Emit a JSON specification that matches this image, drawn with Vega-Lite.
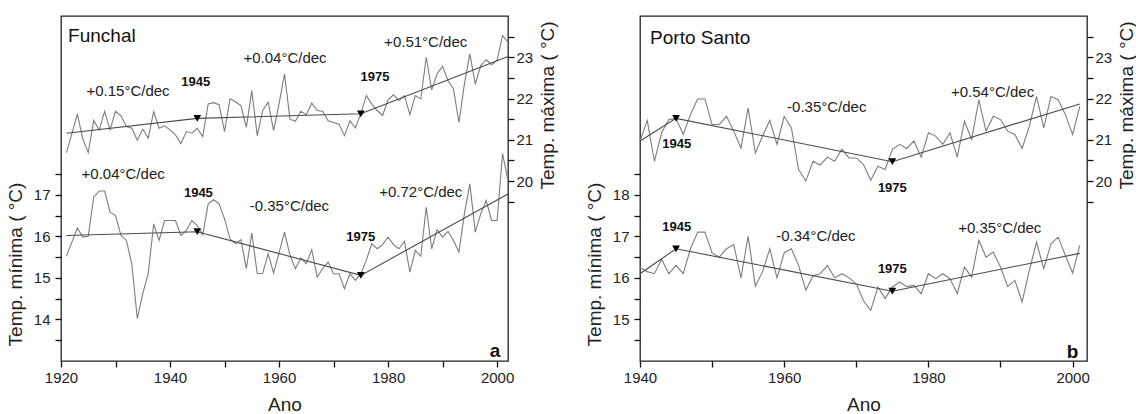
{
"$schema": "https://vega.github.io/schema/vega-lite/v6.json",
"padding": {"left": 5, "top": 15, "right": 2, "bottom": 0},
"background": "white",
"config": {
 "font": "Liberation Sans",
 "view": {"stroke": "#222", "strokeWidth": 1.3},
 "axis": {"labelFont": "Liberation Sans", "labelFontSize": 15, "titleFont": "Liberation Sans", "titleFontSize": 19, "titleFontWeight": "normal", "labelColor": "#222", "titleColor": "#222", "domain": false, "grid": false, "labelFlush": false, "labelOverlap": false, "zindex": 1}
},
"datasets": {
 "series": [
  {"st":"F","k":"max","year":1921,"t":20.69},{"st":"F","k":"max","year":1922,"t":21.15},{"st":"F","k":"max","year":1923,"t":21.63},{"st":"F","k":"max","year":1924,"t":21.02},{"st":"F","k":"max","year":1925,"t":20.69},{"st":"F","k":"max","year":1926,"t":21.47},{"st":"F","k":"max","year":1927,"t":21.24},{"st":"F","k":"max","year":1928,"t":21.69},{"st":"F","k":"max","year":1929,"t":21.24},{"st":"F","k":"max","year":1930,"t":21.69},
  {"st":"F","k":"max","year":1931,"t":21.58},{"st":"F","k":"max","year":1932,"t":21.32},{"st":"F","k":"max","year":1933,"t":21.28},{"st":"F","k":"max","year":1934,"t":20.99},{"st":"F","k":"max","year":1935,"t":21.26},{"st":"F","k":"max","year":1936,"t":21.04},{"st":"F","k":"max","year":1937,"t":21.68},{"st":"F","k":"max","year":1938,"t":21.28},{"st":"F","k":"max","year":1939,"t":21.34},{"st":"F","k":"max","year":1940,"t":21.24},
  {"st":"F","k":"max","year":1941,"t":21.12},{"st":"F","k":"max","year":1942,"t":20.91},{"st":"F","k":"max","year":1943,"t":21.2},{"st":"F","k":"max","year":1944,"t":21.16},{"st":"F","k":"max","year":1945,"t":21.28},{"st":"F","k":"max","year":1946,"t":21.08},{"st":"F","k":"max","year":1947,"t":21.87},{"st":"F","k":"max","year":1948,"t":21.9},{"st":"F","k":"max","year":1949,"t":21.85},{"st":"F","k":"max","year":1950,"t":21.2},
  {"st":"F","k":"max","year":1951,"t":22.0},{"st":"F","k":"max","year":1952,"t":21.92},{"st":"F","k":"max","year":1953,"t":21.83},{"st":"F","k":"max","year":1954,"t":21.3},{"st":"F","k":"max","year":1955,"t":22.19},{"st":"F","k":"max","year":1956,"t":21.1},{"st":"F","k":"max","year":1957,"t":21.71},{"st":"F","k":"max","year":1958,"t":21.91},{"st":"F","k":"max","year":1959,"t":21.22},{"st":"F","k":"max","year":1960,"t":21.87},
  {"st":"F","k":"max","year":1961,"t":22.6},{"st":"F","k":"max","year":1962,"t":21.5},{"st":"F","k":"max","year":1963,"t":21.45},{"st":"F","k":"max","year":1964,"t":21.69},{"st":"F","k":"max","year":1965,"t":21.61},{"st":"F","k":"max","year":1966,"t":21.89},{"st":"F","k":"max","year":1967,"t":21.71},{"st":"F","k":"max","year":1968,"t":21.69},{"st":"F","k":"max","year":1969,"t":21.46},{"st":"F","k":"max","year":1970,"t":21.42},
  {"st":"F","k":"max","year":1971,"t":21.38},{"st":"F","k":"max","year":1972,"t":21.1},{"st":"F","k":"max","year":1973,"t":21.46},{"st":"F","k":"max","year":1974,"t":21.29},{"st":"F","k":"max","year":1975,"t":21.63},{"st":"F","k":"max","year":1976,"t":22.07},{"st":"F","k":"max","year":1977,"t":21.87},{"st":"F","k":"max","year":1978,"t":21.71},{"st":"F","k":"max","year":1979,"t":21.59},{"st":"F","k":"max","year":1980,"t":21.97},
  {"st":"F","k":"max","year":1981,"t":22.09},{"st":"F","k":"max","year":1982,"t":21.95},{"st":"F","k":"max","year":1983,"t":22.07},{"st":"F","k":"max","year":1984,"t":21.61},{"st":"F","k":"max","year":1985,"t":22.07},{"st":"F","k":"max","year":1986,"t":21.99},{"st":"F","k":"max","year":1987,"t":23.0},{"st":"F","k":"max","year":1988,"t":22.21},{"st":"F","k":"max","year":1989,"t":22.6},{"st":"F","k":"max","year":1990,"t":22.78},
  {"st":"F","k":"max","year":1991,"t":22.43},{"st":"F","k":"max","year":1992,"t":22.23},{"st":"F","k":"max","year":1993,"t":21.42},{"st":"F","k":"max","year":1994,"t":22.35},{"st":"F","k":"max","year":1995,"t":23.08},{"st":"F","k":"max","year":1996,"t":22.35},{"st":"F","k":"max","year":1997,"t":22.8},{"st":"F","k":"max","year":1998,"t":22.94},{"st":"F","k":"max","year":1999,"t":22.82},{"st":"F","k":"max","year":2000,"t":22.93},
  {"st":"F","k":"max","year":2001,"t":23.53},{"st":"F","k":"max","year":2002,"t":23.36},
  {"st":"F","k":"min","year":1921,"t":15.52},{"st":"F","k":"min","year":1922,"t":15.86},{"st":"F","k":"min","year":1923,"t":16.2},{"st":"F","k":"min","year":1924,"t":15.98},{"st":"F","k":"min","year":1925,"t":16.0},{"st":"F","k":"min","year":1926,"t":16.94},{"st":"F","k":"min","year":1927,"t":17.09},{"st":"F","k":"min","year":1928,"t":17.09},{"st":"F","k":"min","year":1929,"t":16.58},{"st":"F","k":"min","year":1930,"t":16.5},
  {"st":"F","k":"min","year":1931,"t":16.02},{"st":"F","k":"min","year":1932,"t":15.9},{"st":"F","k":"min","year":1933,"t":15.32},{"st":"F","k":"min","year":1934,"t":14.02},{"st":"F","k":"min","year":1935,"t":14.62},{"st":"F","k":"min","year":1936,"t":15.1},{"st":"F","k":"min","year":1937,"t":16.3},{"st":"F","k":"min","year":1938,"t":15.9},{"st":"F","k":"min","year":1939,"t":16.38},{"st":"F","k":"min","year":1940,"t":16.38},
  {"st":"F","k":"min","year":1941,"t":16.38},{"st":"F","k":"min","year":1942,"t":16.02},{"st":"F","k":"min","year":1943,"t":16.14},{"st":"F","k":"min","year":1944,"t":16.38},{"st":"F","k":"min","year":1945,"t":16.26},{"st":"F","k":"min","year":1946,"t":16.04},{"st":"F","k":"min","year":1947,"t":16.78},{"st":"F","k":"min","year":1948,"t":16.88},{"st":"F","k":"min","year":1949,"t":16.78},{"st":"F","k":"min","year":1950,"t":16.42},
  {"st":"F","k":"min","year":1951,"t":15.94},{"st":"F","k":"min","year":1952,"t":15.82},{"st":"F","k":"min","year":1953,"t":15.92},{"st":"F","k":"min","year":1954,"t":15.22},{"st":"F","k":"min","year":1955,"t":16.08},{"st":"F","k":"min","year":1956,"t":15.1},{"st":"F","k":"min","year":1957,"t":15.11},{"st":"F","k":"min","year":1958,"t":15.58},{"st":"F","k":"min","year":1959,"t":15.12},{"st":"F","k":"min","year":1960,"t":15.6},
  {"st":"F","k":"min","year":1961,"t":16.1},{"st":"F","k":"min","year":1962,"t":15.55},{"st":"F","k":"min","year":1963,"t":15.22},{"st":"F","k":"min","year":1964,"t":15.48},{"st":"F","k":"min","year":1965,"t":15.34},{"st":"F","k":"min","year":1966,"t":15.68},{"st":"F","k":"min","year":1967,"t":15.02},{"st":"F","k":"min","year":1968,"t":15.22},{"st":"F","k":"min","year":1969,"t":15.38},{"st":"F","k":"min","year":1970,"t":15.1},
  {"st":"F","k":"min","year":1971,"t":15.1},{"st":"F","k":"min","year":1972,"t":14.74},{"st":"F","k":"min","year":1973,"t":15.1},{"st":"F","k":"min","year":1974,"t":14.94},{"st":"F","k":"min","year":1975,"t":15.1},{"st":"F","k":"min","year":1976,"t":15.42},{"st":"F","k":"min","year":1977,"t":15.82},{"st":"F","k":"min","year":1978,"t":15.7},{"st":"F","k":"min","year":1979,"t":15.8},{"st":"F","k":"min","year":1980,"t":15.98},
  {"st":"F","k":"min","year":1981,"t":15.8},{"st":"F","k":"min","year":1982,"t":15.7},{"st":"F","k":"min","year":1983,"t":15.88},{"st":"F","k":"min","year":1984,"t":15.14},{"st":"F","k":"min","year":1985,"t":15.66},{"st":"F","k":"min","year":1986,"t":15.52},{"st":"F","k":"min","year":1987,"t":16.7},{"st":"F","k":"min","year":1988,"t":15.7},{"st":"F","k":"min","year":1989,"t":16.16},{"st":"F","k":"min","year":1990,"t":15.98},
  {"st":"F","k":"min","year":1991,"t":16.12},{"st":"F","k":"min","year":1992,"t":15.9},{"st":"F","k":"min","year":1993,"t":15.62},{"st":"F","k":"min","year":1994,"t":16.54},{"st":"F","k":"min","year":1995,"t":17.26},{"st":"F","k":"min","year":1996,"t":16.1},{"st":"F","k":"min","year":1997,"t":16.54},{"st":"F","k":"min","year":1998,"t":16.86},{"st":"F","k":"min","year":1999,"t":16.38},{"st":"F","k":"min","year":2000,"t":16.38},
  {"st":"F","k":"min","year":2001,"t":17.99},{"st":"F","k":"min","year":2002,"t":17.34},
  {"st":"P","k":"max","year":1940,"t":20.97},{"st":"P","k":"max","year":1941,"t":21.47},{"st":"P","k":"max","year":1942,"t":20.48},{"st":"P","k":"max","year":1943,"t":21.17},{"st":"P","k":"max","year":1944,"t":21.49},{"st":"P","k":"max","year":1945,"t":21.52},{"st":"P","k":"max","year":1946,"t":21.13},{"st":"P","k":"max","year":1947,"t":21.61},{"st":"P","k":"max","year":1948,"t":21.99},{"st":"P","k":"max","year":1949,"t":21.99},
  {"st":"P","k":"max","year":1950,"t":21.37},{"st":"P","k":"max","year":1951,"t":21.37},{"st":"P","k":"max","year":1952,"t":21.57},{"st":"P","k":"max","year":1953,"t":21.21},{"st":"P","k":"max","year":1954,"t":20.8},{"st":"P","k":"max","year":1955,"t":21.77},{"st":"P","k":"max","year":1956,"t":20.68},{"st":"P","k":"max","year":1957,"t":21.09},{"st":"P","k":"max","year":1958,"t":21.47},{"st":"P","k":"max","year":1959,"t":20.89},
  {"st":"P","k":"max","year":1960,"t":21.57},{"st":"P","k":"max","year":1961,"t":21.29},{"st":"P","k":"max","year":1962,"t":20.28},{"st":"P","k":"max","year":1963,"t":20.0},{"st":"P","k":"max","year":1964,"t":20.48},{"st":"P","k":"max","year":1965,"t":20.39},{"st":"P","k":"max","year":1966,"t":20.58},{"st":"P","k":"max","year":1967,"t":20.48},{"st":"P","k":"max","year":1968,"t":20.77},{"st":"P","k":"max","year":1969,"t":20.56},
  {"st":"P","k":"max","year":1970,"t":20.56},{"st":"P","k":"max","year":1971,"t":20.4},{"st":"P","k":"max","year":1972,"t":20.02},{"st":"P","k":"max","year":1973,"t":20.36},{"st":"P","k":"max","year":1974,"t":20.28},{"st":"P","k":"max","year":1975,"t":20.77},{"st":"P","k":"max","year":1976,"t":20.89},{"st":"P","k":"max","year":1977,"t":20.79},{"st":"P","k":"max","year":1978,"t":20.97},{"st":"P","k":"max","year":1979,"t":20.58},
  {"st":"P","k":"max","year":1980,"t":21.17},{"st":"P","k":"max","year":1981,"t":21.09},{"st":"P","k":"max","year":1982,"t":20.89},{"st":"P","k":"max","year":1983,"t":21.17},{"st":"P","k":"max","year":1984,"t":20.58},{"st":"P","k":"max","year":1985,"t":21.45},{"st":"P","k":"max","year":1986,"t":21.01},{"st":"P","k":"max","year":1987,"t":21.97},{"st":"P","k":"max","year":1988,"t":21.21},{"st":"P","k":"max","year":1989,"t":21.57},
  {"st":"P","k":"max","year":1990,"t":21.49},{"st":"P","k":"max","year":1991,"t":21.21},{"st":"P","k":"max","year":1992,"t":21.13},{"st":"P","k":"max","year":1993,"t":20.79},{"st":"P","k":"max","year":1994,"t":21.33},{"st":"P","k":"max","year":1995,"t":22.05},{"st":"P","k":"max","year":1996,"t":21.29},{"st":"P","k":"max","year":1997,"t":22.05},{"st":"P","k":"max","year":1998,"t":21.97},{"st":"P","k":"max","year":1999,"t":21.61},
  {"st":"P","k":"max","year":2000,"t":21.13},{"st":"P","k":"max","year":2001,"t":21.81},
  {"st":"P","k":"min","year":1940,"t":16.25},{"st":"P","k":"min","year":1941,"t":16.15},{"st":"P","k":"min","year":1942,"t":16.1},{"st":"P","k":"min","year":1943,"t":16.45},{"st":"P","k":"min","year":1944,"t":16.1},{"st":"P","k":"min","year":1945,"t":16.3},{"st":"P","k":"min","year":1946,"t":16.1},{"st":"P","k":"min","year":1947,"t":16.7},{"st":"P","k":"min","year":1948,"t":17.1},{"st":"P","k":"min","year":1949,"t":17.1},
  {"st":"P","k":"min","year":1950,"t":16.6},{"st":"P","k":"min","year":1951,"t":16.5},{"st":"P","k":"min","year":1952,"t":16.7},{"st":"P","k":"min","year":1953,"t":16.8},{"st":"P","k":"min","year":1954,"t":16.0},{"st":"P","k":"min","year":1955,"t":17.0},{"st":"P","k":"min","year":1956,"t":15.8},{"st":"P","k":"min","year":1957,"t":16.15},{"st":"P","k":"min","year":1958,"t":16.7},{"st":"P","k":"min","year":1959,"t":16.0},
  {"st":"P","k":"min","year":1960,"t":16.6},{"st":"P","k":"min","year":1961,"t":16.7},{"st":"P","k":"min","year":1962,"t":16.3},{"st":"P","k":"min","year":1963,"t":15.7},{"st":"P","k":"min","year":1964,"t":16.05},{"st":"P","k":"min","year":1965,"t":16.1},{"st":"P","k":"min","year":1966,"t":16.3},{"st":"P","k":"min","year":1967,"t":16.0},{"st":"P","k":"min","year":1968,"t":16.1},{"st":"P","k":"min","year":1969,"t":16.0},
  {"st":"P","k":"min","year":1970,"t":15.85},{"st":"P","k":"min","year":1971,"t":15.45},{"st":"P","k":"min","year":1972,"t":15.22},{"st":"P","k":"min","year":1973,"t":15.78},{"st":"P","k":"min","year":1974,"t":15.5},{"st":"P","k":"min","year":1975,"t":15.78},{"st":"P","k":"min","year":1976,"t":15.9},{"st":"P","k":"min","year":1977,"t":15.79},{"st":"P","k":"min","year":1978,"t":15.82},{"st":"P","k":"min","year":1979,"t":15.62},
  {"st":"P","k":"min","year":1980,"t":16.1},{"st":"P","k":"min","year":1981,"t":15.98},{"st":"P","k":"min","year":1982,"t":16.1},{"st":"P","k":"min","year":1983,"t":15.98},{"st":"P","k":"min","year":1984,"t":15.62},{"st":"P","k":"min","year":1985,"t":16.26},{"st":"P","k":"min","year":1986,"t":16.02},{"st":"P","k":"min","year":1987,"t":16.9},{"st":"P","k":"min","year":1988,"t":16.5},{"st":"P","k":"min","year":1989,"t":16.62},
  {"st":"P","k":"min","year":1990,"t":16.26},{"st":"P","k":"min","year":1991,"t":15.79},{"st":"P","k":"min","year":1992,"t":15.94},{"st":"P","k":"min","year":1993,"t":15.42},{"st":"P","k":"min","year":1994,"t":16.18},{"st":"P","k":"min","year":1995,"t":16.86},{"st":"P","k":"min","year":1996,"t":16.22},{"st":"P","k":"min","year":1997,"t":16.82},{"st":"P","k":"min","year":1998,"t":16.98},{"st":"P","k":"min","year":1999,"t":16.54},
  {"st":"P","k":"min","year":2000,"t":16.11},{"st":"P","k":"min","year":2001,"t":16.78}
 ],
 "trend": [
  {"st":"F","k":"max","year":1921,"t":21.16},{"st":"F","k":"max","year":1945,"t":21.52},{"st":"F","k":"max","year":1975,"t":21.63},{"st":"F","k":"max","year":2002,"t":23.02},
  {"st":"F","k":"min","year":1921,"t":16.02},{"st":"F","k":"min","year":1945,"t":16.11},{"st":"F","k":"min","year":1975,"t":15.06},{"st":"F","k":"min","year":2002,"t":17.02},
  {"st":"P","k":"max","year":1940,"t":20.97},{"st":"P","k":"max","year":1945,"t":21.52},{"st":"P","k":"max","year":1975,"t":20.47},{"st":"P","k":"max","year":2001,"t":21.87},
  {"st":"P","k":"min","year":1940,"t":16.1},{"st":"P","k":"min","year":1945,"t":16.7},{"st":"P","k":"min","year":1975,"t":15.68},{"st":"P","k":"min","year":2001,"t":16.59}
 ],
 "breaks": [
  {"st":"F","k":"max","year":1945,"t":21.52},{"st":"F","k":"max","year":1975,"t":21.63},
  {"st":"F","k":"min","year":1945,"t":16.11},{"st":"F","k":"min","year":1975,"t":15.06},
  {"st":"P","k":"max","year":1945,"t":21.52},{"st":"P","k":"max","year":1975,"t":20.47},
  {"st":"P","k":"min","year":1945,"t":16.7},{"st":"P","k":"min","year":1975,"t":15.68}
 ],
 "rates": [
  {"st":"F","k":"max","year":1932.3,"t":22.19,"label":"+0.15°C/dec"},
  {"st":"F","k":"max","year":1961.1,"t":22.99,"label":"+0.04°C/dec"},
  {"st":"F","k":"max","year":1986.9,"t":23.36,"label":"+0.51°C/dec"},
  {"st":"F","k":"min","year":1931.4,"t":17.49,"label":"+0.04°C/dec"},
  {"st":"F","k":"min","year":1961.9,"t":16.73,"label":"-0.35°C/dec"},
  {"st":"F","k":"min","year":1986.0,"t":17.06,"label":"+0.72°C/dec"},
  {"st":"P","k":"max","year":1965.9,"t":21.79,"label":"-0.35°C/dec"},
  {"st":"P","k":"max","year":1988.9,"t":22.15,"label":"+0.54°C/dec"},
  {"st":"P","k":"min","year":1964.4,"t":17.0,"label":"-0.34°C/dec"},
  {"st":"P","k":"min","year":1989.9,"t":17.2,"label":"+0.35°C/dec"}
 ],
 "yearlabels": [
  {"st":"F","k":"max","year":1944.7,"t":22.41,"label":"1945"},
  {"st":"F","k":"max","year":1977.6,"t":22.53,"label":"1975"},
  {"st":"F","k":"min","year":1945.2,"t":17.03,"label":"1945"},
  {"st":"F","k":"min","year":1975.0,"t":15.98,"label":"1975"},
  {"st":"P","k":"max","year":1945.1,"t":20.89,"label":"1945"},
  {"st":"P","k":"max","year":1975.0,"t":19.84,"label":"1975"},
  {"st":"P","k":"min","year":1945.1,"t":17.22,"label":"1945"},
  {"st":"P","k":"min","year":1975.0,"t":16.22,"label":"1975"}
 ],
 "names": [
  {"st":"F","year":1921.3,"t":20.83,"label":"Funchal"},
  {"st":"P","year":1941.4,"t":21.78,"label":"Porto Santo"}
 ],
 "letters": [
  {"st":"F","year":1999.6,"t":13.23,"label":"a"},
  {"st":"P","year":2000.0,"t":14.21,"label":"b"}
 ]
},
"spacing": 132,
"bounds": "flush",
"hconcat": [
 {
  "width": 447, "height": 345,
  "resolve": {"scale": {"y": "independent"}, "axis": {"y": "independent"}},
  "layer": [
   {"layer": [
    {"data": {"name": "series"}, "transform": [{"filter": "datum.st === 'F' && datum.k === 'min'"}],
     "mark": {"type": "line", "color": "#7d7d7d", "strokeWidth": 1.1},
     "encoding": {
      "x": {"field": "year", "type": "quantitative", "scale": {"domain": [1920, 2002], "nice": false, "zero": false},
            "axis": {"title": "Ano", "values": [1920,1930,1940,1950,1960,1970,1980,1990,2000], "format": "d", "labelExpr": "datum.value % 20 === 0 ? datum.label : ''", "ticks": true, "tickSize": 6, "tickColor": "#111", "tickWidth": 1.3, "tickOpacity": 1, "labelFlush": false, "labelPadding": 3, "titlePadding": 10}},
      "y": {"field": "t", "type": "quantitative", "scale": {"domain": [13.0, 21.3], "nice": false, "zero": false},
            "axis": {"orient": "left", "title": "Temp. mínima ( °C)", "values": [13.5,14,14.5,15,15.5,16,16.5,17,17.5], "format": "d", "labelExpr": "datum.value % 1 === 0 ? datum.label : ''", "ticks": true, "tickSize": 6, "tickColor": "#111", "tickWidth": 1.3, "tickOpacity": 1, "labelFlush": false, "labelPadding": 5, "titlePadding": 8, "titleY": 248}}
     }},
    {"data": {"name": "trend"}, "transform": [{"filter": "datum.st === 'F' && datum.k === 'min'"}],
     "mark": {"type": "line", "color": "#4a4a4a", "strokeWidth": 1.1},
     "encoding": {
      "x": {"field": "year", "type": "quantitative", "scale": {"domain": [1920, 2002], "nice": false, "zero": false}},
      "y": {"field": "t", "type": "quantitative", "scale": {"domain": [13.0, 21.3], "nice": false, "zero": false}}
     }},
    {"data": {"name": "breaks"}, "transform": [{"filter": "datum.st === 'F' && datum.k === 'min'"}],
     "mark": {"type": "point", "shape": "triangle-down", "filled": true, "color": "#000", "opacity": 1, "size": 60},
     "encoding": {
      "x": {"field": "year", "type": "quantitative", "scale": {"domain": [1920, 2002], "nice": false, "zero": false}},
      "y": {"field": "t", "type": "quantitative", "scale": {"domain": [13.0, 21.3], "nice": false, "zero": false}}
     }},
    {"data": {"name": "rates"}, "transform": [{"filter": "datum.st === 'F' && datum.k === 'min'"}],
     "mark": {"type": "text", "fontSize": 15, "color": "#222", "align": "center", "baseline": "middle"},
     "encoding": {
      "x": {"field": "year", "type": "quantitative", "scale": {"domain": [1920, 2002], "nice": false, "zero": false}},
      "y": {"field": "t", "type": "quantitative", "scale": {"domain": [13.0, 21.3], "nice": false, "zero": false}},
      "text": {"field": "label"}
     }},
    {"data": {"name": "yearlabels"}, "transform": [{"filter": "datum.st === 'F' && datum.k === 'min'"}],
     "mark": {"type": "text", "fontSize": 13, "fontWeight": "bold", "color": "#111", "align": "center", "baseline": "middle"},
     "encoding": {
      "x": {"field": "year", "type": "quantitative", "scale": {"domain": [1920, 2002], "nice": false, "zero": false}},
      "y": {"field": "t", "type": "quantitative", "scale": {"domain": [13.0, 21.3], "nice": false, "zero": false}},
      "text": {"field": "label"}
     }},
    {"data": {"name": "names"}, "transform": [{"filter": "datum.st === 'F'"}],
     "mark": {"type": "text", "fontSize": 19, "color": "#111", "align": "left", "baseline": "middle"},
     "encoding": {
      "x": {"field": "year", "type": "quantitative", "scale": {"domain": [1920, 2002], "nice": false, "zero": false}},
      "y": {"field": "t", "type": "quantitative", "scale": {"domain": [13.0, 21.3], "nice": false, "zero": false}},
      "text": {"field": "label"}
     }},
    {"data": {"name": "letters"}, "transform": [{"filter": "datum.st === 'F'"}],
     "mark": {"type": "text", "fontSize": 19, "fontWeight": "bold", "color": "#111", "align": "center", "baseline": "middle"},
     "encoding": {
      "x": {"field": "year", "type": "quantitative", "scale": {"domain": [1920, 2002], "nice": false, "zero": false}},
      "y": {"field": "t", "type": "quantitative", "scale": {"domain": [13.0, 21.3], "nice": false, "zero": false}},
      "text": {"field": "label"}
     }}
   ]},
   {"layer": [
    {"data": {"name": "series"}, "transform": [{"filter": "datum.st === 'F' && datum.k === 'max'"}],
     "mark": {"type": "line", "color": "#7d7d7d", "strokeWidth": 1.1},
     "encoding": {
      "x": {"field": "year", "type": "quantitative", "scale": {"domain": [1920, 2002], "nice": false, "zero": false}},
      "y": {"field": "t", "type": "quantitative", "scale": {"domain": [15.64, 24.0], "nice": false, "zero": false},
            "axis": {"orient": "right", "title": "Temp. máxima ( °C)", "values": [19.5,20,20.5,21,21.5,22,22.5,23,23.5], "format": "d", "labelExpr": "datum.value % 1 === 0 ? datum.label : ''", "ticks": true, "tickSize": 6, "tickColor": "#111", "tickWidth": 1.3, "tickOpacity": 1, "labelFlush": false, "labelPadding": 2, "titlePadding": 6, "titleAngle": 270, "titleBaseline": "top", "titleY": 89}}
     }},
    {"data": {"name": "trend"}, "transform": [{"filter": "datum.st === 'F' && datum.k === 'max'"}],
     "mark": {"type": "line", "color": "#4a4a4a", "strokeWidth": 1.1},
     "encoding": {
      "x": {"field": "year", "type": "quantitative", "scale": {"domain": [1920, 2002], "nice": false, "zero": false}},
      "y": {"field": "t", "type": "quantitative", "scale": {"domain": [15.64, 24.0], "nice": false, "zero": false}}
     }},
    {"data": {"name": "breaks"}, "transform": [{"filter": "datum.st === 'F' && datum.k === 'max'"}],
     "mark": {"type": "point", "shape": "triangle-down", "filled": true, "color": "#000", "opacity": 1, "size": 60},
     "encoding": {
      "x": {"field": "year", "type": "quantitative", "scale": {"domain": [1920, 2002], "nice": false, "zero": false}},
      "y": {"field": "t", "type": "quantitative", "scale": {"domain": [15.64, 24.0], "nice": false, "zero": false}}
     }},
    {"data": {"name": "rates"}, "transform": [{"filter": "datum.st === 'F' && datum.k === 'max'"}],
     "mark": {"type": "text", "fontSize": 15, "color": "#222", "align": "center", "baseline": "middle"},
     "encoding": {
      "x": {"field": "year", "type": "quantitative", "scale": {"domain": [1920, 2002], "nice": false, "zero": false}},
      "y": {"field": "t", "type": "quantitative", "scale": {"domain": [15.64, 24.0], "nice": false, "zero": false}},
      "text": {"field": "label"}
     }},
    {"data": {"name": "yearlabels"}, "transform": [{"filter": "datum.st === 'F' && datum.k === 'max'"}],
     "mark": {"type": "text", "fontSize": 13, "fontWeight": "bold", "color": "#111", "align": "center", "baseline": "middle"},
     "encoding": {
      "x": {"field": "year", "type": "quantitative", "scale": {"domain": [1920, 2002], "nice": false, "zero": false}},
      "y": {"field": "t", "type": "quantitative", "scale": {"domain": [15.64, 24.0], "nice": false, "zero": false}},
      "text": {"field": "label"}
     }}
   ]}
  ]
 },
 {
  "width": 447, "height": 345,
  "resolve": {"scale": {"y": "independent"}, "axis": {"y": "independent"}},
  "layer": [
   {"layer": [
    {"data": {"name": "series"}, "transform": [{"filter": "datum.st === 'P' && datum.k === 'min'"}],
     "mark": {"type": "line", "color": "#7d7d7d", "strokeWidth": 1.1},
     "encoding": {
      "x": {"field": "year", "type": "quantitative", "scale": {"domain": [1940, 2002], "nice": false, "zero": false},
            "axis": {"title": "Ano", "values": [1940,1950,1960,1970,1980,1990,2000], "format": "d", "labelExpr": "datum.value % 20 === 0 ? datum.label : ''", "ticks": true, "tickSize": 6, "tickColor": "#111", "tickWidth": 1.3, "tickOpacity": 1, "labelFlush": false, "labelPadding": 3, "titlePadding": 10}},
      "y": {"field": "t", "type": "quantitative", "scale": {"domain": [14.0, 22.3], "nice": false, "zero": false},
            "axis": {"orient": "left", "title": "Temp. mínima ( °C)", "values": [14.5,15,15.5,16,16.5,17,17.5,18,18.5], "format": "d", "labelExpr": "datum.value % 1 === 0 ? datum.label : ''", "ticks": true, "tickSize": 6, "tickColor": "#111", "tickWidth": 1.3, "tickOpacity": 1, "labelFlush": false, "labelPadding": 5, "titlePadding": 8, "titleY": 248}}
     }},
    {"data": {"name": "trend"}, "transform": [{"filter": "datum.st === 'P' && datum.k === 'min'"}],
     "mark": {"type": "line", "color": "#4a4a4a", "strokeWidth": 1.1},
     "encoding": {
      "x": {"field": "year", "type": "quantitative", "scale": {"domain": [1940, 2002], "nice": false, "zero": false}},
      "y": {"field": "t", "type": "quantitative", "scale": {"domain": [14.0, 22.3], "nice": false, "zero": false}}
     }},
    {"data": {"name": "breaks"}, "transform": [{"filter": "datum.st === 'P' && datum.k === 'min'"}],
     "mark": {"type": "point", "shape": "triangle-down", "filled": true, "color": "#000", "opacity": 1, "size": 60},
     "encoding": {
      "x": {"field": "year", "type": "quantitative", "scale": {"domain": [1940, 2002], "nice": false, "zero": false}},
      "y": {"field": "t", "type": "quantitative", "scale": {"domain": [14.0, 22.3], "nice": false, "zero": false}}
     }},
    {"data": {"name": "rates"}, "transform": [{"filter": "datum.st === 'P' && datum.k === 'min'"}],
     "mark": {"type": "text", "fontSize": 15, "color": "#222", "align": "center", "baseline": "middle"},
     "encoding": {
      "x": {"field": "year", "type": "quantitative", "scale": {"domain": [1940, 2002], "nice": false, "zero": false}},
      "y": {"field": "t", "type": "quantitative", "scale": {"domain": [14.0, 22.3], "nice": false, "zero": false}},
      "text": {"field": "label"}
     }},
    {"data": {"name": "yearlabels"}, "transform": [{"filter": "datum.st === 'P' && datum.k === 'min'"}],
     "mark": {"type": "text", "fontSize": 13, "fontWeight": "bold", "color": "#111", "align": "center", "baseline": "middle"},
     "encoding": {
      "x": {"field": "year", "type": "quantitative", "scale": {"domain": [1940, 2002], "nice": false, "zero": false}},
      "y": {"field": "t", "type": "quantitative", "scale": {"domain": [14.0, 22.3], "nice": false, "zero": false}},
      "text": {"field": "label"}
     }},
    {"data": {"name": "names"}, "transform": [{"filter": "datum.st === 'P'"}],
     "mark": {"type": "text", "fontSize": 19, "color": "#111", "align": "left", "baseline": "middle"},
     "encoding": {
      "x": {"field": "year", "type": "quantitative", "scale": {"domain": [1940, 2002], "nice": false, "zero": false}},
      "y": {"field": "t", "type": "quantitative", "scale": {"domain": [14.0, 22.3], "nice": false, "zero": false}},
      "text": {"field": "label"}
     }},
    {"data": {"name": "letters"}, "transform": [{"filter": "datum.st === 'P'"}],
     "mark": {"type": "text", "fontSize": 19, "fontWeight": "bold", "color": "#111", "align": "center", "baseline": "middle"},
     "encoding": {
      "x": {"field": "year", "type": "quantitative", "scale": {"domain": [1940, 2002], "nice": false, "zero": false}},
      "y": {"field": "t", "type": "quantitative", "scale": {"domain": [14.0, 22.3], "nice": false, "zero": false}},
      "text": {"field": "label"}
     }}
   ]},
   {"layer": [
    {"data": {"name": "series"}, "transform": [{"filter": "datum.st === 'P' && datum.k === 'max'"}],
     "mark": {"type": "line", "color": "#7d7d7d", "strokeWidth": 1.1},
     "encoding": {
      "x": {"field": "year", "type": "quantitative", "scale": {"domain": [1940, 2002], "nice": false, "zero": false}},
      "y": {"field": "t", "type": "quantitative", "scale": {"domain": [15.64, 24.0], "nice": false, "zero": false},
            "axis": {"orient": "right", "title": "Temp. máxima ( °C)", "values": [19.5,20,20.5,21,21.5,22,22.5,23,23.5], "format": "d", "labelExpr": "datum.value % 1 === 0 ? datum.label : ''", "ticks": true, "tickSize": 6, "tickColor": "#111", "tickWidth": 1.3, "tickOpacity": 1, "labelFlush": false, "labelPadding": 2, "titlePadding": 6, "titleAngle": 270, "titleBaseline": "top", "titleY": 89}}
     }},
    {"data": {"name": "trend"}, "transform": [{"filter": "datum.st === 'P' && datum.k === 'max'"}],
     "mark": {"type": "line", "color": "#4a4a4a", "strokeWidth": 1.1},
     "encoding": {
      "x": {"field": "year", "type": "quantitative", "scale": {"domain": [1940, 2002], "nice": false, "zero": false}},
      "y": {"field": "t", "type": "quantitative", "scale": {"domain": [15.64, 24.0], "nice": false, "zero": false}}
     }},
    {"data": {"name": "breaks"}, "transform": [{"filter": "datum.st === 'P' && datum.k === 'max'"}],
     "mark": {"type": "point", "shape": "triangle-down", "filled": true, "color": "#000", "opacity": 1, "size": 60},
     "encoding": {
      "x": {"field": "year", "type": "quantitative", "scale": {"domain": [1940, 2002], "nice": false, "zero": false}},
      "y": {"field": "t", "type": "quantitative", "scale": {"domain": [15.64, 24.0], "nice": false, "zero": false}}
     }},
    {"data": {"name": "rates"}, "transform": [{"filter": "datum.st === 'P' && datum.k === 'max'"}],
     "mark": {"type": "text", "fontSize": 15, "color": "#222", "align": "center", "baseline": "middle"},
     "encoding": {
      "x": {"field": "year", "type": "quantitative", "scale": {"domain": [1940, 2002], "nice": false, "zero": false}},
      "y": {"field": "t", "type": "quantitative", "scale": {"domain": [15.64, 24.0], "nice": false, "zero": false}},
      "text": {"field": "label"}
     }},
    {"data": {"name": "yearlabels"}, "transform": [{"filter": "datum.st === 'P' && datum.k === 'max'"}],
     "mark": {"type": "text", "fontSize": 13, "fontWeight": "bold", "color": "#111", "align": "center", "baseline": "middle"},
     "encoding": {
      "x": {"field": "year", "type": "quantitative", "scale": {"domain": [1940, 2002], "nice": false, "zero": false}},
      "y": {"field": "t", "type": "quantitative", "scale": {"domain": [15.64, 24.0], "nice": false, "zero": false}},
      "text": {"field": "label"}
     }}
   ]}
  ]
 }
]
}
